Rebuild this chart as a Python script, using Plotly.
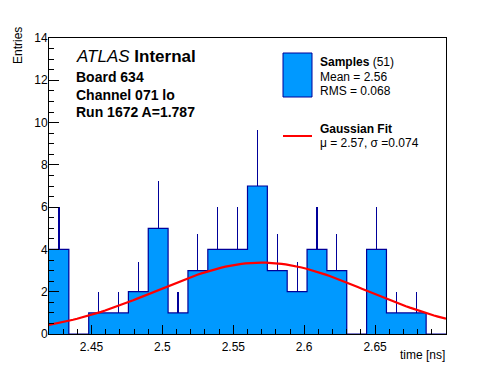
import numpy as np
import plotly.graph_objects as go

# ---- data ----
bin_low = 2.42
bin_width = 0.014
counts = [4, 0, 1, 1, 2, 5, 1, 3, 4, 4, 7, 3, 2, 4, 3, 0, 4, 1, 1, 0]
x_range = [2.42, 2.70]
y_range = [0, 14]
x_ticks = [2.45, 2.5, 2.55, 2.6, 2.65]
x_tick_labels = ["2.45", "2.5", "2.55", "2.6", "2.65"]
y_ticks = [0, 2, 4, 6, 8, 10, 12, 14]
fit_mu = 2.57
fit_sigma = 0.074
fit_amp = 3.38

n = len(counts)
edges = [bin_low + i * bin_width for i in range(n + 1)]
centers = [bin_low + (i + 0.5) * bin_width for i in range(n)]
errs = [float(np.sqrt(c)) for c in counts]

FILL = "#0099ff"
NAVY = "#000099"
FONT = "Liberation Sans, Arial, Helvetica, sans-serif"

fig = go.Figure()
fig.add_trace(go.Bar(
    x=centers, y=counts, width=[bin_width] * n,
    marker=dict(color=FILL, line=dict(width=0)),
    error_y=dict(type="data", symmetric=False, array=errs, arrayminus=[0] * n,
                 color=NAVY, thickness=1.2, width=0),
    showlegend=False, hoverinfo="skip",
))
fig.add_trace(go.Scatter(
    x=edges, y=counts + [counts[-1]], mode="lines", line_shape="hv",
    line=dict(color=NAVY, width=1.2), showlegend=False, hoverinfo="skip",
))
xf = np.linspace(x_range[0], x_range[1], 100)
yf = fit_amp * np.exp(-0.5 * ((xf - fit_mu) / fit_sigma) ** 2)
fig.add_trace(go.Scatter(
    x=xf, y=yf, mode="lines", line=dict(color="#ff0000", width=2.2),
    showlegend=False, hoverinfo="skip",
))

L, R, T, B = 49, 446, 38, 334
W, H = 496, 372


def X(px):
    return (px - L) / (R - L)


def Y(py):
    return (B - py) / (B - T)


annots = []


def txt(s, px, py, size, xanchor="left", angle=0):
    annots.append(dict(text=s, x=X(px), y=Y(py), xref="paper", yref="paper",
                       xanchor=xanchor, yanchor="middle", showarrow=False,
                       textangle=angle, font=dict(family=FONT, size=size, color="black")))


txt("<i>ATLAS</i> <b>Internal</b>", 74, 57, 17)
txt("<b>Board 634</b>", 74, 77, 14)
txt("<b>Channel 071 lo</b>", 74, 95, 14)
txt("<b>Run 1672 A=1.787</b>", 74, 111.5, 14)
txt("<b>Samples</b> (51)", 318, 61.5, 12)
txt("Mean = 2.56", 318, 76.5, 12)
txt("RMS = 0.068", 318, 90.5, 12)
txt("<b>Gaussian Fit</b>", 318, 129, 12)
txt("μ = 2.57, σ =0.074", 318, 142.5, 12)
txt("Entries", 18, 46, 12, xanchor="center", angle=-90)
txt("time [ns]", 446.5, 355, 12, xanchor="right")

shapes = [
    dict(type="rect", xref="paper", yref="paper", x0=X(283), x1=X(312), y0=Y(97), y1=Y(53),
         fillcolor=FILL, line=dict(color=NAVY, width=1)),
    dict(type="line", xref="paper", yref="paper", x0=X(283), x1=X(312), y0=Y(136), y1=Y(136),
         line=dict(color="#ff0000", width=2)),
]

fig.update_layout(
    width=W, height=H,
    margin=dict(l=L, r=W - R, t=T, b=H - B, pad=0),
    paper_bgcolor="white", plot_bgcolor="white",
    bargap=0, showlegend=False,
    annotations=annots, shapes=shapes,
    font=dict(family=FONT, size=12, color="black"),
    xaxis=dict(range=x_range, tickvals=x_ticks, ticktext=x_tick_labels,
               ticks="inside", ticklen=9, tickcolor="black", tickwidth=1,
               minor=dict(ticks="inside", ticklen=5, dtick=0.01, tick0=2.42, tickcolor="black"),
               showline=True, linecolor="black", linewidth=1, mirror=True,
               showgrid=False, zeroline=False, tickfont=dict(size=12),
               ticklabelstandoff=2),
    yaxis=dict(range=y_range, tickvals=y_ticks,
               ticks="inside", ticklen=10, tickcolor="black", tickwidth=1,
               minor=dict(ticks="inside", ticklen=5, dtick=0.5, tickcolor="black"),
               showline=True, linecolor="black", linewidth=1, mirror=True,
               showgrid=False, zeroline=False, tickfont=dict(size=12),
               ticklabelstandoff=-2),
)

fig.write_html("out.html", config={"displayModeBar": False},
               post_script="document.body.style.margin='0';document.body.style.overflow='hidden';")
